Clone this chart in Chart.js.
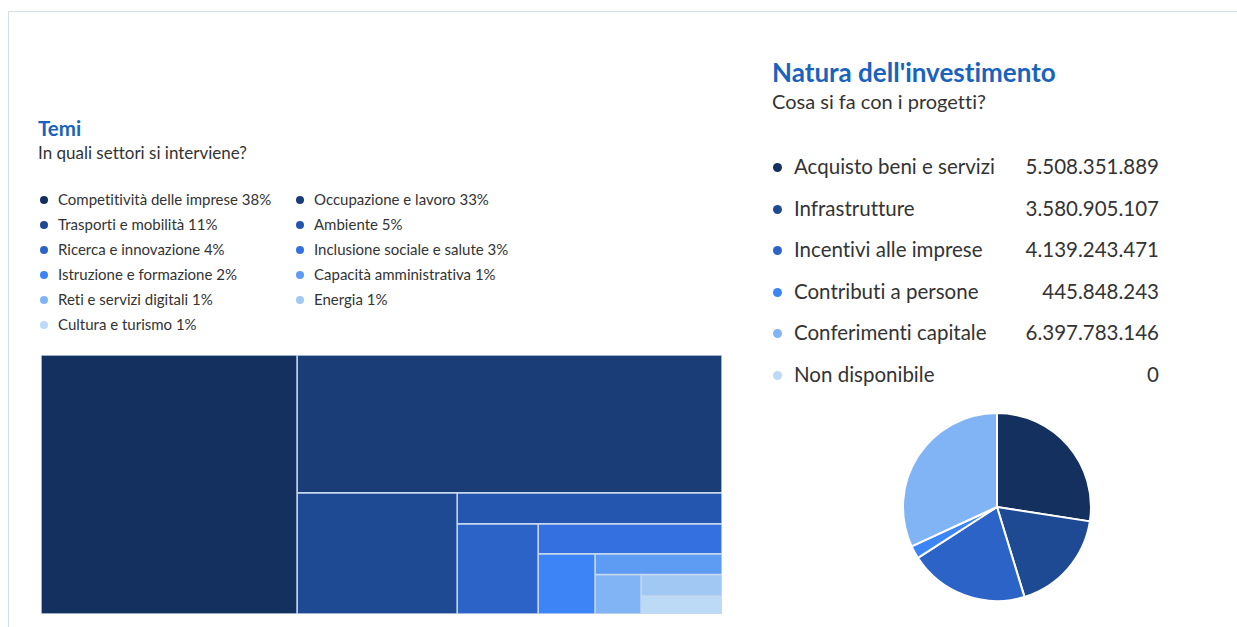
<!DOCTYPE html>
<html lang="it">
<head>
<meta charset="utf-8">
<script src="https://cdn.jsdelivr.net/npm/chart.js@4.4.1/dist/chart.umd.min.js"></script>
<style>
  html, body { margin: 0; padding: 0; background: #fff; }
  body { width: 1237px; height: 627px; position: relative; overflow: hidden; font-family: Lato, "Open Sans", sans-serif; color: #333; font-variant-ligatures: none; }
  .frame { position: absolute; left: 8px; top: 11px; width: 1260px; height: 640px; border: 1px solid #d3dfee; box-sizing: border-box; }
  .title { position: absolute; color: #1a63bd; font-weight: 700; white-space: nowrap; }
  .sub { position: absolute; color: #333; white-space: nowrap; }
  #temiTitle { left: 38px; top: 116px; font-size: 20.5px; }
  #temiSub { left: 38px; top: 142px; font-size: 17px; }
  #natTitle { left: 772px; top: 56px; font-size: 26px; }
  #natSub { left: 772px; top: 89px; font-size: 20px; }
  #temiLegend { position: absolute; left: 40px; top: 187px; width: 560px; }
  .li { position: absolute; font-size: 15px; line-height: 25px; white-space: nowrap; }
  .li .dot { display: inline-block; width: 8px; height: 8px; border-radius: 50%; margin-right: 10px; vertical-align: 1px; }
  #natLegend { position: absolute; left: 772px; top: 146px; width: 390px; }
  .nr { position: absolute; left: 0; width: 388px; font-size: 20.5px; height: 41px; line-height: 41px; white-space: nowrap; }
  .nr .dot { display: inline-block; width: 9px; height: 9px; border-radius: 50%; margin-left: 1px; margin-right: 12px; vertical-align: 2px; }
  .nr .val { position: absolute; right: 1px; top: 0; }
  #treeWrap { position: absolute; left: 41px; top: 355px; width: 681px; height: 259px; }
  #pieWrap { position: absolute; left: 902px; top: 412px; width: 190px; height: 190px; }
</style>
</head>
<body>
<div class="frame"></div>
<div class="title" id="temiTitle">Temi</div>
<div class="sub" id="temiSub">In quali settori si interviene?</div>
<div id="temiLegend"></div>
<div id="treeWrap"><canvas id="tree"></canvas></div>

<div class="title" id="natTitle">Natura dell'investimento</div>
<div class="sub" id="natSub">Cosa si fa con i progetti?</div>
<div id="natLegend"></div>
<div id="pieWrap"><canvas id="pie"></canvas></div>

<script>
// ---- Data: Temi (treemap) ----
const temiLabels = [
  'Competitività delle imprese', 'Occupazione e lavoro', 'Trasporti e mobilità', 'Ambiente',
  'Ricerca e innovazione', 'Inclusione sociale e salute', 'Istruzione e formazione',
  'Capacità amministrativa', 'Reti e servizi digitali', 'Energia', 'Cultura e turismo'
];
const temiValues = [37.6, 33.2, 11.0, 4.66, 4.14, 3.13, 1.94, 1.49, 1.03, 1.0, 0.81];
const temiColors = ['#13305f', '#1a3d78', '#1e4a94', '#2456b0', '#2b63c6', '#3470e0',
  '#3d84f7', '#5e9cf3', '#80b4f5', '#a0c8f3', '#bcd9f5'];

// ---- Data: Natura dell'investimento (pie) ----
const naturaLabels = ['Acquisto beni e servizi', 'Infrastrutture', 'Incentivi alle imprese',
  'Contributi a persone', 'Conferimenti capitale', 'Non disponibile'];
const naturaValues = [5508351889, 3580905107, 4139243471, 445848243, 6397783146, 0];
const naturaColors = ['#13305f', '#1e4a94', '#2b63c6', '#3d84f7', '#80b4f5', '#bcd9f5'];

function fmtIt(n) { return String(n).replace(/\B(?=(\d{3})+(?!\d))/g, '.'); }

// ---- Temi legend (two columns, row-major) ----
const temiTotal = temiValues.reduce((a, b) => a + b, 0);
const tl = document.getElementById('temiLegend');
temiLabels.forEach((lab, i) => {
  const d = document.createElement('div');
  d.className = 'li';
  d.style.left = (i % 2 === 0 ? 0 : 256) + 'px';
  d.style.top = (Math.floor(i / 2) * 25) + 'px';
  const pct = Math.round(temiValues[i] / temiTotal * 100);
  d.innerHTML = '<span class="dot" style="background:' + temiColors[i] + '"></span>' + lab + ' ' + pct + '%';
  tl.appendChild(d);
});

// ---- Natura legend ----
const nl = document.getElementById('natLegend');
naturaLabels.forEach((lab, i) => {
  const d = document.createElement('div');
  d.className = 'nr';
  d.style.top = (i * 41.6) + 'px';
  d.innerHTML = '<span class="dot" style="background:' + naturaColors[i] + '"></span>' + lab +
    '<span class="val">' + fmtIt(naturaValues[i]) + '</span>';
  nl.appendChild(d);
});

// ---- Treemap layout (alternating slice-and-dice in unit square, data units) ----
function sliceDice(values) {
  let x0 = 0, y0 = 0, x1 = 1, y1 = 1;
  let rest = values.reduce((a, b) => a + b, 0);
  const rects = [];
  values.forEach((v, i) => {
    const f = rest > 0 ? v / rest : 0;
    if (i === values.length - 1) {
      rects.push([x0, y0, x1, y1]);
    } else if (i % 2 === 0) {
      const xm = x0 + (x1 - x0) * f;
      rects.push([x0, y0, xm, y1]);
      x0 = xm;
    } else {
      const ym = y0 + (y1 - y0) * f;
      rects.push([x0, y0, x1, ym]);
      y0 = ym;
    }
    rest -= v;
  });
  return rects;
}
const rects = sliceDice(temiValues);
const treeDatasets = rects.map((r, i) => ({
  label: temiLabels[i],
  data: [{x: r[0], y: r[1]}, {x: r[2], y: r[1]}, {x: r[2], y: r[3]}, {x: r[0], y: r[3]}, {x: r[0], y: r[1]}],
  showLine: true,
  fill: 'shape',
  backgroundColor: temiColors[i],
  borderColor: '#c6d7ee',
  borderWidth: 1.5,
  pointRadius: 0,
  pointHoverRadius: 0,
  tension: 0
}));

new Chart(document.getElementById('tree'), {
  type: 'scatter',
  data: { datasets: treeDatasets },
  options: {
    responsive: true,
    maintainAspectRatio: false,
    animation: false,
    layout: { padding: 0 },
    plugins: { legend: { display: false }, tooltip: { enabled: false }, filler: { propagate: false } },
    scales: {
      x: { type: 'linear', min: 0, max: 1, display: false },
      y: { type: 'linear', min: 0, max: 1, reverse: true, display: false }
    }
  }
});

new Chart(document.getElementById('pie'), {
  type: 'pie',
  data: {
    labels: naturaLabels,
    datasets: [{ data: naturaValues, backgroundColor: naturaColors, borderColor: '#ffffff', borderWidth: 2 }]
  },
  options: {
    responsive: true,
    maintainAspectRatio: false,
    animation: false,
    layout: { padding: 0 },
    plugins: { legend: { display: false }, tooltip: { enabled: false } }
  }
});
</script>
</body>
</html>
